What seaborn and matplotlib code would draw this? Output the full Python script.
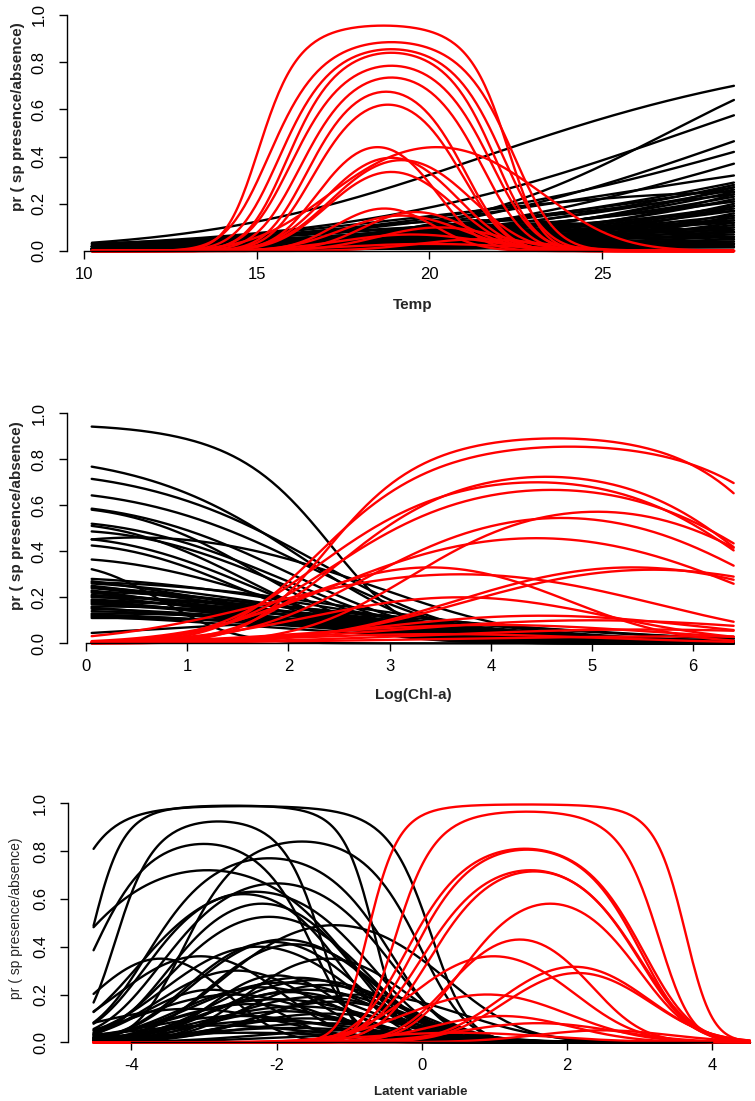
import numpy as np
import pandas as pd
import matplotlib
matplotlib.use("Agg")
import matplotlib.pyplot as plt
import seaborn as sns

# ---------------- data ----------------
# Panel 1: Temp
temp_xmin, temp_xmax = 10.23, 28.82
temp_ticks = [10, 15, 20, 25]
# red species: peak probability, optimum, tolerance
temp_red_pmax = [0.955, 0.885, 0.855, 0.84, 0.785, 0.735, 0.675, 0.62, 0.44, 0.44,
                 0.395, 0.385, 0.335, 0.18, 0.165, 0.15, 0.10, 0.07, 0.05, 0.03]
temp_red_opt = [18.67, 18.9, 18.9, 18.9, 18.9, 18.9, 18.75, 18.8, 18.5, 20.2,
                18.9, 19.2, 18.9, 18.7, 19.6, 19.2, 20.3, 19.5, 21.5, 20.0]
temp_red_tol = [1.40, 1.61, 1.55, 1.47, 1.52, 1.47, 1.36, 1.37, 1.3, 2.3,
                1.5, 1.6, 1.5, 1.3, 1.4, 1.6, 1.7, 2.0, 1.8, 2.5]
# black species: probability at start, middle and end of the gradient
temp_black_start = [0.035, 0.007, 0.03, 0.01, 0.03, 0.008, 0.02,
                    0.02, 0.01, 0.03, 0.005, 0.02, 0.01, 0.015, 0.005, 0.02, 0.01,
                    0.03, 0.005, 0.01, 0.02, 0.005, 0.01, 0.02, 0.005, 0.01, 0.015,
                    0.005, 0.01, 0.02, 0.005, 0.01, 0.003, 0.01, 0.02, 0.005, 0.01,
                    0.004, 0.015, 0.01, 0.005, 0.02, 0.01, 0.005, 0.01, 0.003, 0.01,
                    0.005, 0.02, 0.01, 0.02, 0.01, 0.025, 0.012]
temp_black_mid = [0.30, 0.10, 0.17, 0.10, 0.13, 0.08, 0.12,
                  0.09, 0.07, 0.10, 0.05, 0.08, 0.06, 0.09, 0.04, 0.07, 0.05,
                  0.08, 0.06, 0.04, 0.06, 0.03, 0.05, 0.07, 0.04, 0.03, 0.05,
                  0.02, 0.04, 0.06, 0.03, 0.05, 0.02, 0.03, 0.05, 0.02, 0.04,
                  0.02, 0.04, 0.03, 0.02, 0.04, 0.02, 0.015, 0.03, 0.01, 0.02,
                  0.01, 0.03, 0.12, 0.10, 0.08, 0.14, 0.06]
temp_black_end = [0.70, 0.64, 0.575, 0.465, 0.42, 0.37, 0.32,
                  0.29, 0.28, 0.27, 0.27, 0.26, 0.25, 0.24, 0.24, 0.23, 0.22,
                  0.21, 0.21, 0.20, 0.19, 0.19, 0.18, 0.17, 0.17, 0.16, 0.15,
                  0.15, 0.14, 0.13, 0.13, 0.12, 0.12, 0.11, 0.10, 0.10, 0.09,
                  0.08, 0.08, 0.07, 0.06, 0.06, 0.05, 0.04, 0.04, 0.03, 0.02,
                  0.015, 0.03, 0.05, 0.08, 0.03, 0.25, 0.02]

# Panel 2: Log(Chl-a)
chl_xmin, chl_xmax = 0.056, 6.40
chl_ticks = [0, 1, 2, 3, 4, 5, 6]
chl_red_pmax = [0.891, 0.855, 0.724, 0.70, 0.667, 0.572, 0.545, 0.457, 0.33, 0.32,
                0.30, 0.33, 0.20, 0.12, 0.10, 0.08, 0.06, 0.04, 0.03]
chl_red_opt = [4.65, 4.78, 4.55, 4.45, 4.6, 5.05, 4.7, 4.45, 5.4, 5.6,
               3.7, 3.4, 3.7, 4.5, 5.0, 4.0, 5.5, 3.5, 6.0]
chl_red_tol = [1.02, 1.18, 1.15, 1.24, 1.3, 1.2, 1.3, 1.47, 1.4, 1.5,
               1.6, 1.1, 1.3, 1.5, 1.8, 1.6, 2.0, 1.5, 2.5]
chl_blackpk_pmax = [0.948, 0.805, 0.74, 0.66, 0.60, 0.59, 0.53, 0.52, 0.49, 0.46,
                    0.46, 0.43, 0.37, 0.335]
chl_blackpk_opt = [-0.49, -1.0, -0.8, -0.6, -0.5, -0.3, -0.4, -0.3, -0.2, 0.5,
                   -0.3, -0.2, -0.3, -0.2]
chl_blackpk_tol = [1.15, 1.59, 1.7, 1.7, 1.6, 1.3, 1.6, 1.3, 1.5, 1.7,
                   1.4, 1.3, 1.6, 0.75]
chl_black_start = [0.28, 0.27, 0.265, 0.26, 0.25, 0.245, 0.24, 0.23, 0.225, 0.22,
                   0.21, 0.205, 0.20, 0.19, 0.185, 0.18, 0.175, 0.17, 0.16, 0.155,
                   0.15, 0.14, 0.13, 0.125, 0.12, 0.115, 0.11, 0.045]
chl_black_mid = [0.10, 0.06, 0.12, 0.08, 0.05, 0.09, 0.07, 0.04, 0.10, 0.06,
                 0.08, 0.05, 0.11, 0.07, 0.04, 0.09, 0.06, 0.05, 0.08, 0.04,
                 0.06, 0.05, 0.07, 0.04, 0.05, 0.03, 0.06, 0.09]
chl_black_end = [0.005, 0.002, 0.01, 0.003, 0.001, 0.008, 0.004, 0.001, 0.01, 0.003,
                 0.006, 0.002, 0.02, 0.005, 0.001, 0.01, 0.004, 0.002, 0.008, 0.002,
                 0.006, 0.003, 0.01, 0.002, 0.005, 0.001, 0.008, 0.02]

# Panel 3: Latent variable
lat_xmin, lat_xmax = -4.52, 4.52
lat_ticks = [-4, -2, 0, 2, 4]
lat_red_pmax = [0.995, 0.965, 0.81, 0.806, 0.72, 0.715, 0.58, 0.43, 0.36, 0.316,
                0.29, 0.20, 0.11, 0.08, 0.05, 0.04]
lat_red_opt = [1.445, 1.45, 1.42, 1.45, 1.5, 1.55, 1.77, 1.35, 0.99, 2.1,
               2.15, 0.9, 1.1, 1.6, 2.5, 0.5]
lat_red_tol = [0.662, 0.68, 0.83, 0.8, 0.85, 0.82, 0.8, 0.74, 0.89, 0.84,
               0.84, 1.0, 0.9, 1.0, 0.9, 1.2]
lat_black_pmax = [0.988, 0.99, 0.924, 0.83, 0.84, 0.77, 0.72, 0.665, 0.63, 0.62,
                  0.58, 0.525, 0.49, 0.43, 0.42, 0.41, 0.40, 0.36, 0.35, 0.30,
                  0.27, 0.26, 0.25, 0.24, 0.23, 0.22, 0.21, 0.20, 0.19, 0.18,
                  0.17, 0.16, 0.15, 0.14, 0.13, 0.12, 0.11, 0.10, 0.09, 0.08,
                  0.07, 0.06, 0.05, 0.04, 0.03, 0.20, 0.35, 0.28, 0.22]
lat_black_opt = [-2.45, -2.6, -2.8, -3.0, -1.65, -2.1, -2.95, -2.0, -2.3, -2.45,
                 -2.2, -2.1, -1.2, -1.9, -2.05, -1.75, -2.25, -3.05, -3.6, -2.55,
                 -1.7, -1.5, -1.9, -1.35, -2.2, -1.6, -1.8, -2.6, -1.45, -2.0,
                 -1.2, -2.35, -1.7, -3.2, -1.9, -1.3, -2.5, -1.6, -2.1, -1.4,
                 -2.8, -1.8, -1.0, -2.4, -0.8, -0.8, -1.3, -2.0, -2.9]
lat_black_tol = [0.85, 0.63, 0.6, 0.75, 0.8, 0.9, 1.1, 0.95, 1.0, 0.85,
                 0.85, 0.95, 1.1, 0.95, 0.9, 0.9, 1.0, 0.9, 0.75, 0.9,
                 1.0, 1.05, 1.1, 0.95, 1.0, 1.15, 1.0, 1.1, 1.1, 1.2,
                 1.0, 1.05, 1.2, 1.2, 1.0, 1.2, 1.2, 1.1, 1.3, 1.2,
                 1.3, 1.4, 1.2, 1.5, 1.3, 1.2, 0.9, 0.75, 0.8]

ylab = "pr ( sp presence/absence)"
y_ticks = [0.0, 0.2, 0.4, 0.6, 0.8, 1.0]

# ---------------- helpers ----------------
def logit(p):
    p = np.clip(np.asarray(p, dtype=float), 1e-9, 1 - 1e-9)
    return np.log(p / (1 - p))

def expit(z):
    return 1.0 / (1.0 + np.exp(-z))

def peak_curve(x, pmax, opt, tol):
    return expit(logit(pmax) - (x - opt) ** 2 / (2 * tol ** 2))

def trend_curve(x, x0, x2, p0, pm, p2):
    xm = (x0 + x2) / 2
    h = (x2 - x0) / 2
    L0, Lm, L2 = logit(p0), logit(pm), logit(p2)
    b = (L2 - L0) / (2 * h)
    c = (L2 - 2 * Lm + L0) / (2 * h ** 2)
    return expit(Lm + b * (x - xm) + c * (x - xm) ** 2)

def build(xmin, xmax, peaks, trends):
    x = np.linspace(xmin, xmax, 300)
    rows = []
    sid = 0
    for grp, pm, op, tl in peaks:
        for a, u, t in zip(pm, op, tl):
            rows.append(pd.DataFrame({"x": x, "p": peak_curve(x, a, u, t),
                                      "sp": sid, "grp": grp}))
            sid += 1
    for grp, s, m, e in trends:
        for a, b, c in zip(s, m, e):
            rows.append(pd.DataFrame({"x": x, "p": trend_curve(x, xmin, xmax, a, b, c),
                                      "sp": sid, "grp": grp}))
            sid += 1
    return pd.concat(rows, ignore_index=True)

df_temp = build(temp_xmin, temp_xmax,
                [("red", temp_red_pmax, temp_red_opt, temp_red_tol)],
                [("black", temp_black_start, temp_black_mid, temp_black_end)])
df_chl = build(chl_xmin, chl_xmax,
               [("red", chl_red_pmax, chl_red_opt, chl_red_tol),
                ("black", chl_blackpk_pmax, chl_blackpk_opt, chl_blackpk_tol)],
               [("black", chl_black_start, chl_black_mid, chl_black_end)])
df_lat = build(lat_xmin, lat_xmax,
               [("red", lat_red_pmax, lat_red_opt, lat_red_tol),
                ("black", lat_black_pmax, lat_black_opt, lat_black_tol)],
               [])

# ---------------- figure ----------------
sns.set_theme(style="ticks")
plt.rcParams["font.family"] = ["Liberation Sans", "DejaVu Sans"]

W, H = 755, 1101
fig = plt.figure(figsize=(W / 100, H / 100), dpi=100)
fig.patch.set_facecolor("white")

def px_axes(left, top, bottom):
    return fig.add_axes([left / W, 1 - bottom / H, (W - left) / W, (bottom - top) / H])

panels = [
    (df_temp, px_axes(67, 15, 251), (9.508, 29.43), temp_ticks),
    (df_chl, px_axes(66.7, 413.3, 643.3), (-0.191, 6.611), chl_ticks),
    (df_lat, px_axes(68.3, 803.3, 1042.3), (-4.868, 4.591), lat_ticks),
]

for df, ax, xl, xt in panels:
    ax.set_facecolor("white")
    sns.lineplot(data=df, x="x", y="p", units="sp", estimator=None, hue="grp",
                 hue_order=["black", "red"], palette={"black": "black", "red": "#ff0000"},
                 linewidth=1.7, legend=False, sort=False, ax=ax, clip_on=False)
    ax.set_xlim(*xl)
    ax.set_ylim(0, 1)
    ax.set_xticks(xt)
    ax.set_xticklabels([str(v) for v in xt])
    ax.set_yticks(y_ticks)
    ax.set_yticklabels([f"{v:.1f}" for v in y_ticks], rotation=90, va="center")
    for s in ["top", "right"]:
        ax.spines[s].set_visible(False)
    ax.spines["left"].set_bounds(0, 1)
    ax.spines["bottom"].set_bounds(xt[0], xt[-1])
    for s in ["left", "bottom"]:
        ax.spines[s].set_linewidth(1.0)
        ax.spines[s].set_color("black")
    ax.tick_params(axis="both", direction="out", length=5.5, width=1.0,
                   labelsize=12, colors="black")
    ax.tick_params(axis="x", pad=6)
    ax.tick_params(axis="y", pad=9)
    ax.set_xlabel("")
    ax.set_ylabel("")
    ax.grid(False)

fig.text(18 / W, 1 - 117 / H, ylab, rotation=90, ha="center", va="center",
         fontsize=11, fontweight="bold")
fig.text(17 / W, 1 - 515.7 / H, ylab, rotation=90, ha="center", va="center",
         fontsize=11, fontweight="bold")
fig.text(16 / W, 1 - 918 / H, ylab, rotation=90, ha="center", va="center",
         fontsize=10)
fig.text(413 / W, 1 - 305 / H, "Temp", ha="center", va="center",
         fontsize=11, fontweight="bold")
fig.text(413 / W, 1 - 695 / H, "Log(Chl-a)", ha="center", va="center",
         fontsize=11, fontweight="bold")
fig.text(421 / W, 1 - 1092 / H, "Latent variable", ha="center", va="center",
         fontsize=9.5, fontweight="bold")

fig.savefig("out.png", dpi=100, facecolor="white")
